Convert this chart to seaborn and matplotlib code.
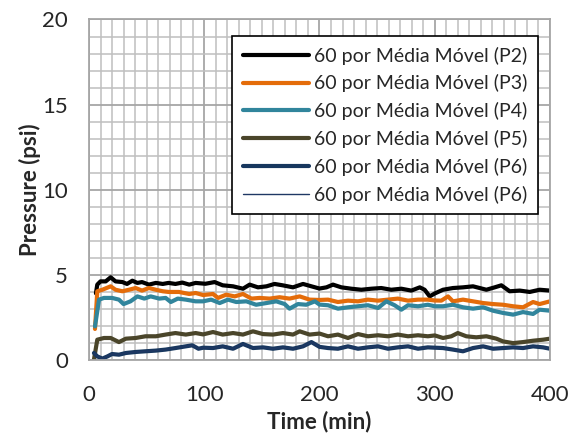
import matplotlib
matplotlib.use("Agg")
import matplotlib.pyplot as plt
import seaborn as sns
import pandas as pd
from matplotlib.ticker import MultipleLocator

sns.set_style("white")
plt.rcParams['font.family'] = ['Lato', 'DejaVu Sans']

# ---- data (time in min, pressure in psi) ----
t_p2 = [6, 7.2, 10, 14.5, 18.8, 23, 29, 33, 37.6, 42, 46, 52, 58, 64, 69, 75, 81, 87, 92.5, 101,
        109, 116, 125, 133.6, 139.4, 146.6, 154, 161, 168, 177, 185.7, 193, 200,
        206, 211.7, 219, 227.6, 236.3, 245, 253.6, 262.3, 271, 279.7, 287, 291.2, 295.6, 300,
        307.2, 315.8, 324.5, 333.2, 344.8, 352, 357.8, 365, 373.7, 382.4, 391, 400]
v_p2 = [3.94, 4.45, 4.64, 4.64, 4.88, 4.64, 4.6, 4.49, 4.68, 4.55, 4.6, 4.45, 4.55, 4.49, 4.55, 4.49, 4.57, 4.45, 4.55, 4.5,
        4.6, 4.41, 4.35, 4.21, 4.45, 4.29, 4.35, 4.49, 4.41, 4.29, 4.49, 4.35, 4.22,
        4.29, 4.45, 4.29, 4.21, 4.15, 4.21, 4.25, 4.15, 4.21, 4.1, 4.29, 4.15, 3.76, 3.93,
        4.15, 4.25, 4.29, 4.35, 4.15, 4.29, 4.41, 4.06, 4.1, 4.02, 4.15, 4.1]

t_p3 = [5.2, 7.2, 11.6, 18.8, 23, 29, 34.7, 40.5, 46, 52, 58, 64, 69, 78, 87, 92.5, 99,
        107.6, 112, 119, 126.4, 133.6, 141, 148, 156.7, 165.4, 174, 182.8, 191.4, 200,
        207.4, 216, 224.7, 233.4, 242, 250.8, 259.4, 268, 276.8, 285.5, 294, 300,
        305.7, 311.5, 315.8, 324.5, 333.2, 342, 350.6, 359.2, 368, 376.6, 385.3, 391, 400]
v_p3 = [1.85, 4.06, 4.15, 4.35, 4.15, 4.06, 4.15, 4.25, 4.1, 4.25, 4.15, 4.06, 4.02, 4.02, 3.9, 3.96, 3.84,
        3.9, 3.67, 3.86, 3.76, 3.9, 3.63, 3.67, 3.63, 3.71, 3.63, 3.76, 3.57, 3.55,
        3.57, 3.43, 3.51, 3.47, 3.57, 3.51, 3.57, 3.63, 3.51, 3.57, 3.57, 3.52,
        3.51, 3.76, 3.47, 3.57, 3.47, 3.37, 3.31, 3.27, 3.18, 3.12, 3.43, 3.31, 3.47]

t_p4 = [5.2, 8.7, 13, 20, 26, 30, 36, 42, 48, 53.5, 61, 66.5, 71, 77, 84, 92.5, 99,
        106, 113.4, 120.6, 127.8, 136.5, 145, 154, 162.5, 169.8, 174, 181.3, 188.5, 196, 200,
        207.4, 216, 224.7, 233.4, 242, 250.8, 258, 265.2, 271, 276.8, 285.5, 294, 300,
        307.2, 315.8, 324.5, 333.2, 342, 350.6, 359.2, 368, 376.6, 385.3, 391, 400]
v_p4 = [2.0, 3.57, 3.67, 3.67, 3.57, 3.31, 3.47, 3.76, 3.63, 3.76, 3.63, 3.67, 3.43, 3.63, 3.57, 3.47, 3.47,
        3.57, 3.37, 3.57, 3.43, 3.47, 3.27, 3.37, 3.47, 3.31, 3.04, 3.31, 3.27, 3.47, 3.28,
        3.24, 3.04, 3.12, 3.18, 3.24, 3.08, 3.47, 3.24, 2.98, 3.24, 3.18, 3.27, 3.18,
        3.18, 3.27, 3.12, 3.04, 3.12, 2.92, 2.79, 2.69, 2.84, 2.73, 2.98, 2.92]

t_p5 = [4.3, 7.2, 13, 18.8, 26, 32, 40.5, 49, 58, 66.5, 75, 84, 92.5, 99,
        107.6, 116, 125, 133.6, 142.3, 151, 159.6, 168.3, 177, 182.8, 191.4, 200,
        207.4, 216, 224.7, 233.4, 242, 250.8, 259.4, 268, 276.8, 285.5, 294, 300,
        307.2, 314.4, 320, 327.4, 336, 344.8, 353.5, 359.2, 368, 376.6, 385.3, 394, 400]
v_p5 = [0.05, 1.22, 1.32, 1.32, 1.08, 1.28, 1.32, 1.42, 1.42, 1.52, 1.61, 1.52, 1.61, 1.53,
        1.67, 1.52, 1.61, 1.52, 1.71, 1.55, 1.52, 1.61, 1.52, 1.71, 1.52, 1.58,
        1.42, 1.52, 1.32, 1.55, 1.42, 1.48, 1.42, 1.52, 1.42, 1.48, 1.42, 1.47,
        1.32, 1.42, 1.61, 1.42, 1.36, 1.42, 1.28, 1.12, 1.02, 1.08, 1.16, 1.22, 1.28]

t_p6 = [4.3, 7.2, 11.6, 16, 20, 26, 32, 40.5, 49, 58, 66.5, 75, 84, 89.6, 95, 99,
        107.6, 116, 125, 133.6, 142.3, 151, 159.6, 168.3, 177, 185.7, 193, 200,
        207.4, 216, 224.7, 233.4, 242, 250.8, 259.4, 268, 276.8, 285.5, 294, 300,
        307.2, 315.8, 324.5, 333.2, 342, 350.6, 359.2, 368, 376.6, 385.3, 394, 400]
v_p6 = [0.44, 0.24, 0.11, 0.24, 0.38, 0.34, 0.44, 0.5, 0.54, 0.58, 0.64, 0.73, 0.83, 0.89, 0.69, 0.75,
        0.73, 0.83, 0.69, 0.97, 0.73, 0.77, 0.69, 0.77, 0.69, 0.83, 1.08, 0.8,
        0.73, 0.69, 0.83, 0.69, 0.77, 0.83, 0.69, 0.77, 0.83, 0.69, 0.77, 0.75,
        0.73, 0.64, 0.54, 0.73, 0.83, 0.69, 0.73, 0.77, 0.73, 0.83, 0.77, 0.69]

labels = ["60 por Média Móvel (P2)", "60 por Média Móvel (P3)", "60 por Média Móvel (P4)",
          "60 por Média Móvel (P5)", "60 por Média Móvel (P6)", "60 por Média Móvel (P6)"]
colors = ["#000000", "#E46C0A", "#31859C", "#4A452A", "#17375E", "#1F3864"]
widths = [3.0, 3.0, 3.0, 3.0, 3.0, 1.0]
series = [(t_p2, v_p2), (t_p3, v_p3), (t_p4, v_p4), (t_p5, v_p5), (t_p6, v_p6), (t_p6, v_p6)]

fig = plt.figure(figsize=(5.69, 4.45), dpi=100)
ax = fig.add_axes([0.1564, 0.1899, 0.8102, 0.7663])

for (t, v), lab, c, w in zip(series, labels, colors, widths):
    df = pd.DataFrame({"Time": t, "Pressure": v})
    sns.lineplot(data=df, x="Time", y="Pressure", ax=ax, color=c, linewidth=w,
                 label=lab, estimator=None, sort=False)

ax.set_xlim(0, 400)
ax.set_ylim(0, 20)
ax.xaxis.set_major_locator(MultipleLocator(100))
ax.xaxis.set_minor_locator(MultipleLocator(10))
ax.yaxis.set_major_locator(MultipleLocator(5))
ax.yaxis.set_minor_locator(MultipleLocator(1))
ax.grid(which="major", color="#A6A6A6", linewidth=1.3)
ax.grid(which="minor", color="#BFBFBF", linewidth=1.1)
ax.set_axisbelow(True)
ax.tick_params(which="both", length=0, labelsize=16)
ax.tick_params(axis="x", pad=18)
ax.tick_params(axis="y", pad=15)
for s in ax.spines.values():
    s.set_color("#A6A6A6")
    s.set_linewidth(1.3)

ax.set_xlabel("Time (min)", fontsize=16, fontweight="bold", labelpad=4)
ax.set_ylabel("Pressure (psi)", fontsize=16, fontweight="bold", labelpad=1)

leg = ax.legend(loc="upper right", bbox_to_anchor=(0.974, 0.952), fontsize=14,
                frameon=True, fancybox=False, edgecolor="black", framealpha=1,
                handlelength=3.4, handletextpad=0.25, labelspacing=0.5,
                borderpad=0.55, borderaxespad=0)
leg.get_frame().set_linewidth(1.2)

fig.savefig("out.png", dpi=100)
